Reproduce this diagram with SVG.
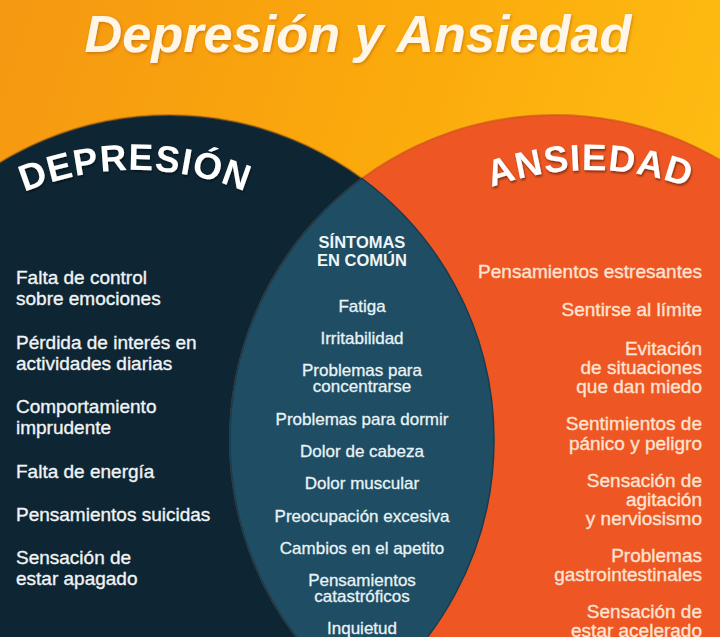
<svg xmlns="http://www.w3.org/2000/svg" width="720" height="637" viewBox="0 0 720 637">
<defs>
<linearGradient id="bg" x1="0" y1="0" x2="1" y2="0.3">
<stop offset="0" stop-color="#F59812"/>
<stop offset="0.55" stop-color="#FBAA0C"/>
<stop offset="1" stop-color="#FEBC12"/>
</linearGradient>
<filter id="sh" x="-10%" y="-30%" width="120%" height="160%">
<feDropShadow dx="1" dy="2" stdDeviation="1.2" flood-color="#000" flood-opacity="0.45"/>
</filter>
<filter id="tsh" x="-10%" y="-30%" width="120%" height="160%">
<feDropShadow dx="1" dy="1.5" stdDeviation="1.5" flood-color="#9A4A00" flood-opacity="0.45"/>
</filter>
<path id="arcDep" d="M -116.1 315 A 290 290 0 0 1 386.1 315"/>
<path id="arcAns" d="M 338.9 315 A 290 290 0 0 1 841.1 315"/>
</defs>
<style>
.hdr{font-family:"Liberation Sans",Arial,sans-serif;font-weight:bold;font-size:37px;letter-spacing:1px;fill:#FFFFFF}
.l{font-family:"Liberation Sans",Arial,sans-serif;font-size:19px;fill:#F1F3F4;stroke:#F1F3F4;stroke-width:0.35}
.c{font-family:"Liberation Sans",Arial,sans-serif;font-size:17px;fill:#E8F3F6;stroke:#E8F3F6;stroke-width:0.3;text-anchor:middle}
.cb{font-family:"Liberation Sans",Arial,sans-serif;font-size:16.5px;font-weight:bold;fill:#EEF6F8;text-anchor:middle}
.r{font-family:"Liberation Sans",Arial,sans-serif;font-size:19px;fill:#FCE3D2;stroke:#FCE3D2;stroke-width:0.35;text-anchor:end}
</style>
<rect width="720" height="637" fill="url(#bg)"/>
<text id="title" x="358" y="52" text-anchor="middle" font-family="Liberation Sans, Arial, sans-serif" font-weight="bold" font-style="italic" font-size="52" fill="#FFF6E8" textLength="547" lengthAdjust="spacingAndGlyphs" filter="url(#tsh)">Depresión y Ansiedad</text>
<g id="depresion">
<circle cx="169" cy="440" r="325" fill="#0E2634" stroke="#9C5A10" stroke-opacity="0.5" stroke-width="2"/>
<text class="hdr" filter="url(#sh)"><textPath href="#arcDep" startOffset="50%" text-anchor="middle">DEPRESIÓN</textPath></text>
<text class="l" x="16" y="284">Falta de control</text>
<text class="l" x="16" y="305">sobre emociones</text>
<text class="l" x="16" y="349">Pérdida de interés en</text>
<text class="l" x="16" y="370">actividades diarias</text>
<text class="l" x="16" y="413">Comportamiento</text>
<text class="l" x="16" y="434">imprudente</text>
<text class="l" x="16" y="478">Falta de energía</text>
<text class="l" x="16" y="521">Pensamientos suicidas</text>
<text class="l" x="16" y="564">Sensación de</text>
<text class="l" x="16" y="585">estar apagado</text>
</g>
<g id="ansiedad">
<circle cx="555" cy="440" r="325" fill="#EE5724" stroke="#C8501A" stroke-opacity="0.6" stroke-width="2"/>
<text class="hdr" fill="#FFF4F0" filter="url(#sh)"><textPath href="#arcAns" startOffset="50%" text-anchor="middle">ANSIEDAD</textPath></text>
<text class="r" x="702" y="278">Pensamientos estresantes</text>
<text class="r" x="702" y="316">Sentirse al límite</text>
<text class="r" x="702" y="355">Evitación</text>
<text class="r" x="702" y="374">de situaciones</text>
<text class="r" x="702" y="393">que dan miedo</text>
<text class="r" x="702" y="430">Sentimientos de</text>
<text class="r" x="702" y="450">pánico y peligro</text>
<text class="r" x="702" y="487">Sensación de</text>
<text class="r" x="702" y="506">agitación</text>
<text class="r" x="702" y="525">y nerviosismo</text>
<text class="r" x="702" y="562">Problemas</text>
<text class="r" x="702" y="581">gastrointestinales</text>
<text class="r" x="702" y="618">Sensación de</text>
<text class="r" x="702" y="637">estar acelerado</text>
</g>
<g id="comun">
<path d="M 362 178.5 A 325 325 0 0 1 362 701.5 A 325 325 0 0 1 362 178.5 Z" fill="#1E4D64" stroke="#173C4F" stroke-width="1.5"/>
<text class="cb" x="362" y="248">SÍNTOMAS</text>
<text class="cb" x="362" y="266">EN COMÚN</text>
<text class="c" x="362" y="312">Fatiga</text>
<text class="c" x="362" y="344">Irritabilidad</text>
<text class="c" x="362" y="376">Problemas para</text>
<text class="c" x="362" y="392">concentrarse</text>
<text class="c" x="362" y="425">Problemas para dormir</text>
<text class="c" x="362" y="457">Dolor de cabeza</text>
<text class="c" x="362" y="489">Dolor muscular</text>
<text class="c" x="362" y="522">Preocupación excesiva</text>
<text class="c" x="362" y="554">Cambios en el apetito</text>
<text class="c" x="362" y="586">Pensamientos</text>
<text class="c" x="362" y="602">catastróficos</text>
<text class="c" x="362" y="634">Inquietud</text>
</g>
</svg>
